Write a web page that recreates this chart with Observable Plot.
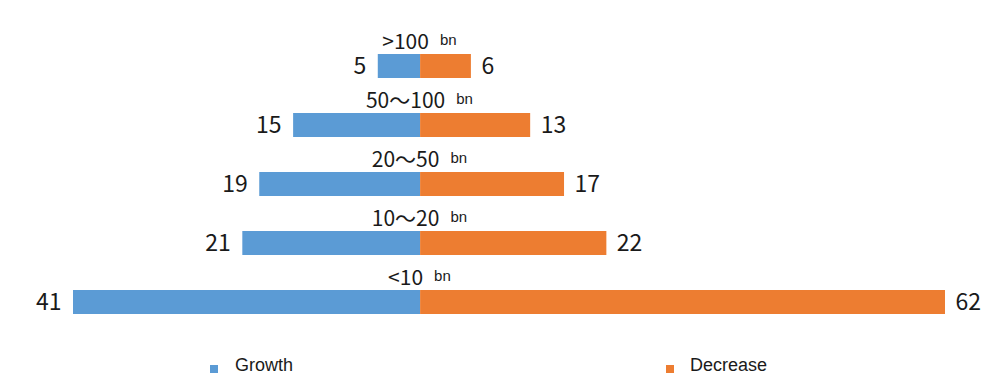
<!DOCTYPE html>
<html>
<head>
<meta charset="utf-8">
<script src="https://cdn.jsdelivr.net/npm/d3@7"></script>
<script src="https://cdn.jsdelivr.net/npm/@observablehq/plot@0.6"></script>
<style>
  html, body { margin: 0; padding: 0; background: #fff; }
  #chart { width: 1000px; }
  .legend { position: relative; width: 1000px; height: 43px; font-family: "Liberation Sans", Arial, sans-serif; font-size: 18px; color: #1a1a1a; }
  .legend .sw { position: absolute; width: 8px; height: 8px; top: 25px; }
  .legend .lb { position: absolute; top: 15px; line-height: 20px; }
</style>
</head>
<body>
<div id="chart"></div>
<script>
const categories = [">100", "50～100", "20～50", "10～20", "<10"];
const growth = [5, 15, 19, 21, 41];
const decrease = [6, 13, 17, 22, 62];
const unitLabel = "bn";
const seriesNames = ["Growth", "Decrease"];
const colors = ["#5B9BD5", "#ED7D31"];

const rows = categories.map((c, i) => ({cat: c, growth: growth[i], decrease: decrease[i]}));

const catFont = "21px 'Noto Sans CJK SC'";
const canvas = document.createElement("canvas");
const ctx = canvas.getContext("2d");
ctx.font = catFont;

const catDx = -15;
const unitMarks = rows.map(r => {
  const w = ctx.measureText(r.cat).width;
  return Plot.text([r], {
    x: 0, y: "cat", text: () => unitLabel,
    textAnchor: "start", dx: catDx + w / 2 + 11, dy: -26,
    fontSize: 15, fontFamily: "Liberation Sans, Arial, sans-serif", fill: "#1a1a1a"
  });
});

const plot = Plot.plot({
  width: 1000,
  height: 340,
  marginTop: 34,
  marginBottom: 7,
  marginLeft: 73,
  marginRight: 55,
  x: {domain: [-41, 62], axis: null},
  y: {domain: categories, paddingInner: 0.6, paddingOuter: 0.3, axis: null},
  marks: [
    Plot.barX(rows, {x1: 0, x2: d => -d.growth, y: "cat", fill: colors[0]}),
    Plot.barX(rows, {x1: 0, x2: d => d.decrease, y: "cat", fill: colors[1]}),
    Plot.ruleX([0], {y1: categories[0], y2: categories[categories.length - 1], stroke: "#d9d9d9", strokeWidth: 1, insetBottom: -10}),
    Plot.text(rows, {x: d => -d.growth, y: "cat", text: d => String(d.growth), textAnchor: "end", dx: -12, fontSize: 23, fontFamily: "Noto Sans CJK SC, sans-serif", fill: "#1a1a1a"}),
    Plot.text(rows, {x: d => d.decrease, y: "cat", text: d => String(d.decrease), textAnchor: "start", dx: 10, fontSize: 23, fontFamily: "Noto Sans CJK SC, sans-serif", fill: "#1a1a1a"}),
    Plot.text(rows, {x: 0, y: "cat", text: "cat", textAnchor: "middle", dx: catDx, dy: -24, fontSize: 21, fontFamily: "Noto Sans CJK SC, sans-serif", fill: "#1a1a1a"}),
    ...unitMarks
  ]
});
document.getElementById("chart").append(plot);

const legend = document.createElement("div");
legend.className = "legend";
const lpos = [[210, 235], [666, 690]];
seriesNames.forEach((name, i) => {
  const sw = document.createElement("span");
  sw.className = "sw";
  sw.style.left = lpos[i][0] + "px";
  sw.style.background = colors[i];
  const lb = document.createElement("span");
  lb.className = "lb";
  lb.style.left = lpos[i][1] + "px";
  lb.textContent = name;
  legend.append(sw, lb);
});
document.body.append(legend);
</script>
</body>
</html>
